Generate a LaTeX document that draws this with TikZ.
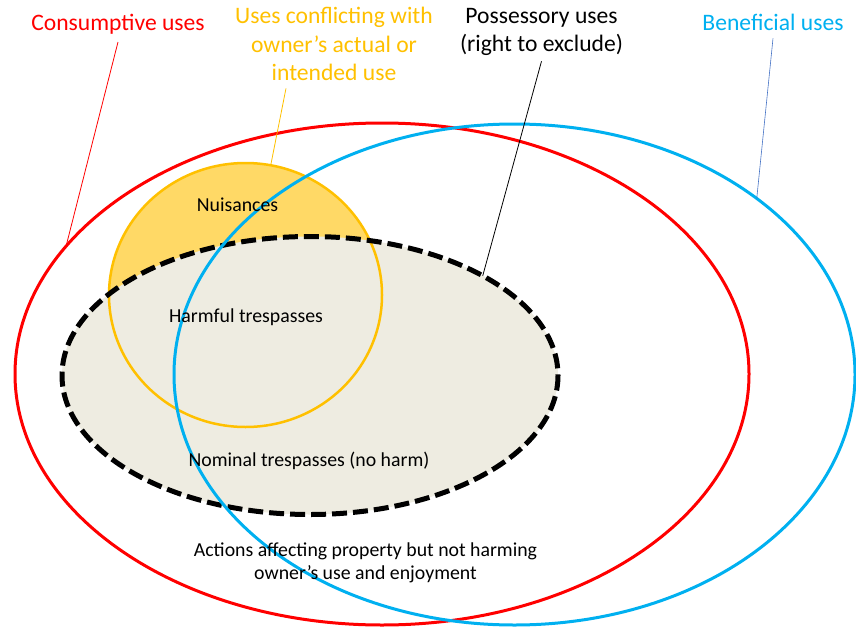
\documentclass[tikz,border=0pt]{standalone}
\usepackage{fontspec}
\setmainfont{Carlito}
\usetikzlibrary{shapes.geometric,calc}
\definecolor{consred}{HTML}{FF0000}
\definecolor{benblue}{HTML}{00B0F0}
\definecolor{leadblue}{HTML}{4472C4}
\definecolor{confgold}{HTML}{FFC000}
\definecolor{nuisfill}{HTML}{FFD966}
\definecolor{tanfill}{HTML}{EEECE1}
\begin{document}
\begin{tikzpicture}[x=1pt,y=-1pt,
  setshape/.style={ellipse, inner sep=0pt, outer sep=0pt},
  biglabel/.style={font=\fontsize{23.6}{28.5}\selectfont, align=center, inner sep=0pt, anchor=base},
  smalllabel/.style={font=\fontsize{19.8}{23}\selectfont, align=center, inner sep=0pt, anchor=base},
  leader/.style={line width=0.8pt},
  possline/.style={line width=5pt, dash pattern=on 15pt off 6pt},
  confline/.style={draw=confgold, line width=2.5pt}]
\useasboundingbox (0,0) rectangle (856,626);

% conflicting-use circle (its fill shows only outside the possessory ellipse)
\node[setshape, fill=nuisfill, minimum width=273pt, minimum height=264pt] (conf) at (245.5,295) {};
% possessory uses: tan-filled ellipse
\node[setshape, fill=tanfill, minimum width=496pt, minimum height=278pt] (poss) at (310,375.5) {};
% outlines above the fills
\draw[confline] (conf.center) ellipse [x radius=136.5, y radius=132];
\draw[possline] (poss.center) ellipse [x radius=248, y radius=139];

% consumptive and beneficial uses
\node[setshape, draw=consred, line width=3pt, minimum width=734pt, minimum height=502pt] (cons) at (382,374) {};
\node[setshape, draw=benblue, line width=3pt, minimum width=681pt, minimum height=501pt] (ben) at (514.5,374.5) {};

% outer labels (base anchor of a multi-line node sits on its last line)
\node[biglabel, text=consred] (lcons) at (118,31) {Consumptive uses};
\node[biglabel, text=confgold] (lconf) at (334,81) {Uses conflicting with\\owner’s actual or\\intended use};
\node[biglabel] (lposs) at (541.5,52) {Possessory uses\\(right to exclude)};
\node[biglabel, text=benblue] (lben) at (773,31) {Beneficial uses};

% inner labels
\node[smalllabel] (lnuis) at (237.5,211.5) {Nuisances};
\node[smalllabel] (lharm) at (246,322.5) {Harmful trespasses};
\node[smalllabel] (lnom) at (309,466) {Nominal trespasses (no harm)};
\node[smalllabel] (lact) at (365.5,579) {Actions affecting property but not harming\\owner’s use and enjoyment};

% leader lines
\draw[leader, consred] ($(lcons.south)+(0,7)$) -- (cons.158.3);
\draw[leader, confgold] ($(lconf.south)+(-48,7)$) -- (conf.79.5);
\draw[leader, black] ($(lposs.south)+(0,5)$) -- (poss.30.5);
\draw[leader, leadblue, line width=0.6pt] ($(lben.south)+(0,7)$) -- (ben.36);
\end{tikzpicture}
\end{document}
